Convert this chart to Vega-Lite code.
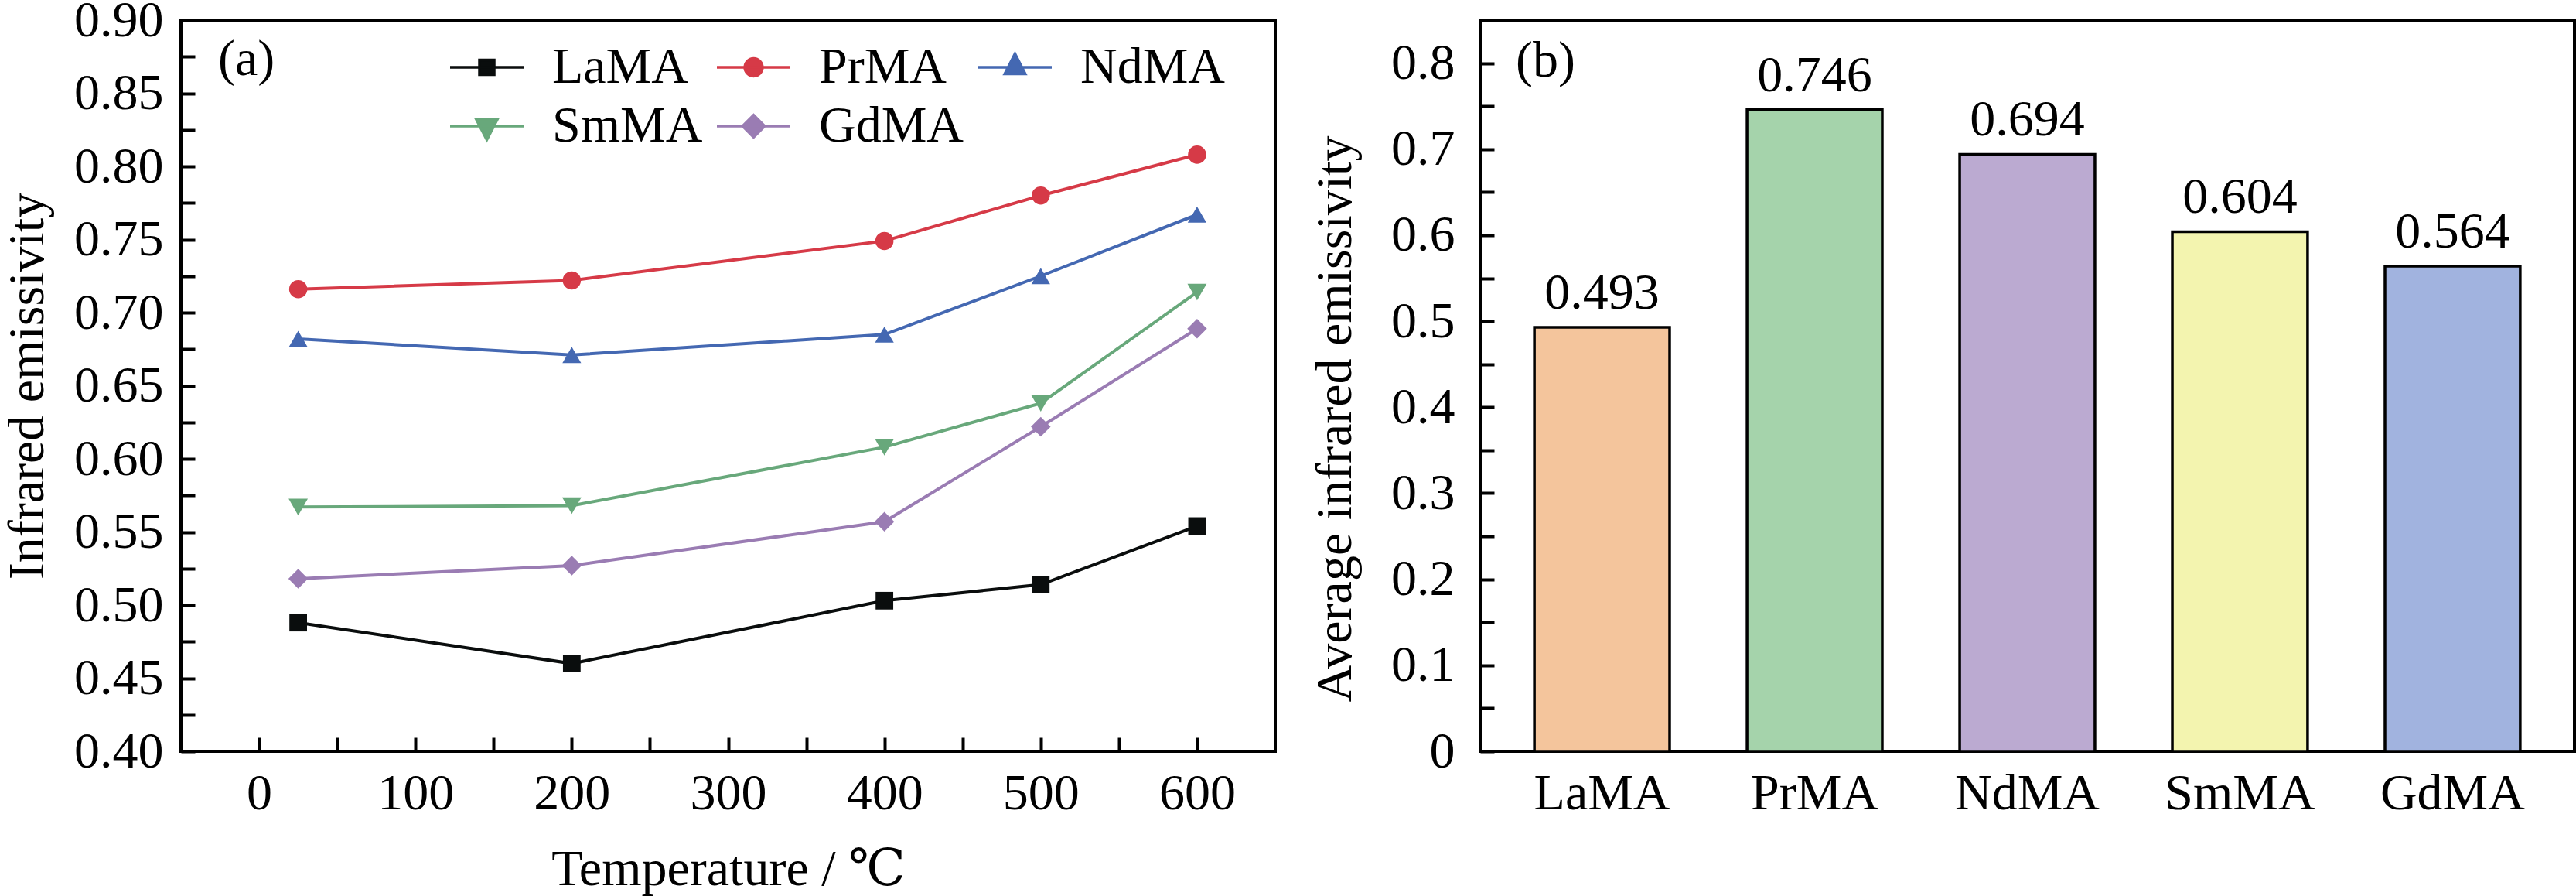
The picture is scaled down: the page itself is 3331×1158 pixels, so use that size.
{
  "$schema": "https://vega.github.io/schema/vega-lite/v6.json",
  "padding": {"left": 0, "top": -9, "right": 0, "bottom": 0},
  "background": "#ffffff",
  "config": {
    "font": "Liberation Serif",
    "view": {"stroke": "#000000", "strokeWidth": 4},
    "axis": {
      "domain": false, "grid": false,
      "labelFont": "Liberation Serif", "labelFontSize": 66, "labelColor": "#000000", "labelLimit": 400,
      "titleFont": "Liberation Serif, DejaVu Serif", "titleFontSize": 66, "titleFontWeight": "normal", "titleColor": "#000000",
      "tickColor": "#000000", "tickWidth": 4,
      "labelOverlap": false, "labelBound": false, "labelFlush": false
    }
  },
  "resolve": {"scale": {"color": "independent"}},
  "spacing": 40,
  "hconcat": [
    {
      "width": 1415,
      "height": 945,
      "title": {"text": "(a)", "anchor": "start", "frame": "group", "baseline": "alphabetic", "offset": -170, "dx": 48, "fontSize": 66, "fontWeight": "normal", "font": "Liberation Serif", "color": "#000000"},
      "data": {"values": [
        {"series": "LaMA", "temperature": 25, "emissivity": 0.488},
        {"series": "LaMA", "temperature": 200, "emissivity": 0.460},
        {"series": "LaMA", "temperature": 400, "emissivity": 0.503},
        {"series": "LaMA", "temperature": 500, "emissivity": 0.514},
        {"series": "LaMA", "temperature": 600, "emissivity": 0.554},
        {"series": "PrMA", "temperature": 25, "emissivity": 0.716},
        {"series": "PrMA", "temperature": 200, "emissivity": 0.722},
        {"series": "PrMA", "temperature": 400, "emissivity": 0.749},
        {"series": "PrMA", "temperature": 500, "emissivity": 0.780},
        {"series": "PrMA", "temperature": 600, "emissivity": 0.808},
        {"series": "NdMA", "temperature": 25, "emissivity": 0.682},
        {"series": "NdMA", "temperature": 200, "emissivity": 0.671},
        {"series": "NdMA", "temperature": 400, "emissivity": 0.685},
        {"series": "NdMA", "temperature": 500, "emissivity": 0.725},
        {"series": "NdMA", "temperature": 600, "emissivity": 0.767},
        {"series": "SmMA", "temperature": 25, "emissivity": 0.567},
        {"series": "SmMA", "temperature": 200, "emissivity": 0.568},
        {"series": "SmMA", "temperature": 400, "emissivity": 0.608},
        {"series": "SmMA", "temperature": 500, "emissivity": 0.638},
        {"series": "SmMA", "temperature": 600, "emissivity": 0.714},
        {"series": "GdMA", "temperature": 25, "emissivity": 0.518},
        {"series": "GdMA", "temperature": 200, "emissivity": 0.527},
        {"series": "GdMA", "temperature": 400, "emissivity": 0.557},
        {"series": "GdMA", "temperature": 500, "emissivity": 0.622},
        {"series": "GdMA", "temperature": 600, "emissivity": 0.689}
      ]},
      "encoding": {
        "x": {
          "field": "temperature", "type": "quantitative",
          "scale": {"domain": [-50, 650], "nice": false, "zero": false},
          "axis": {
            "title": "Temperature / ℃",
            "values": [0, 50, 100, 150, 200, 250, 300, 350, 400, 450, 500, 550, 600],
            "tickSize": -18, "labelPadding": 40, "titlePadding": 33,
            "labelExpr": "datum.value % 100 === 0 ? format(datum.value, 'd') : ''",
            "encode": {"ticks": {"update": {"y2": {"signal": "datum.value % 100 === 0 ? -18 : -10"}}}}
          }
        },
        "y": {
          "field": "emissivity", "type": "quantitative",
          "scale": {"domain": [0.4, 0.9], "nice": false, "zero": false},
          "axis": {
            "title": "Infrared emissivity",
            "values": [0.4, 0.425, 0.45, 0.475, 0.5, 0.525, 0.55, 0.575, 0.6, 0.625, 0.65, 0.675, 0.7, 0.725, 0.75, 0.775, 0.8, 0.825, 0.85, 0.875, 0.9],
            "tickSize": -18, "labelPadding": 41, "titlePadding": 26,
            "labelExpr": "abs(datum.value*20 - round(datum.value*20)) < 0.01 ? format(datum.value, '.2f') : ''",
            "encode": {"ticks": {"update": {"x2": {"signal": "abs(datum.value*20 - round(datum.value*20)) < 0.01 ? 18 : 10"}}}}
          }
        }
      },
      "layer": [
        {
          "mark": {"type": "line", "strokeWidth": 4},
          "encoding": {
            "color": {
              "field": "series", "type": "nominal",
              "scale": {"domain": ["LaMA", "PrMA", "NdMA", "SmMA", "GdMA"], "range": ["#0a0d0d", "#d63a47", "#4468b2", "#68a87b", "#9a7cb3"]},
              "legend": {
                "orient": "none", "legendX": 346, "legendY": 28, "columns": 3, "direction": "horizontal", "title": null,
                "symbolType": "stroke", "symbolSize": 9025, "symbolStrokeWidth": 3.5, "clipHeight": 66,
                "labelFont": "Liberation Serif", "labelFontSize": 66, "labelColor": "#000000", "labelOffset": 35, "labelLimit": 400,
                "columnPadding": 16, "rowPadding": 10, "padding": 0,
                "encode": {"symbols": {"update": {
                  "shape": {"signal": "datum.value === 'LaMA' ? 'M-1,0H1M-0.2,-0.2H0.2V0.2H-0.2Z' : datum.value === 'PrMA' ? 'M-1,0H1M-0.24,0A0.24,0.24,0,1,0,0.24,0A0.24,0.24,0,1,0,-0.24,0Z' : datum.value === 'NdMA' ? 'M-1,0H1M0,-0.37L0.28,0.18L-0.28,0.18Z' : datum.value === 'SmMA' ? 'M-1,0H1M-0.29,-0.19L0.29,-0.19L0,0.37Z' : 'M-1,0H1M-0.3,0L0,-0.3L0.3,0L0,0.3Z'"},
                  "fill": {"signal": "datum.value === 'LaMA' ? '#0a0d0d' : datum.value === 'PrMA' ? '#d63a47' : datum.value === 'NdMA' ? '#4468b2' : datum.value === 'SmMA' ? '#68a87b' : '#9a7cb3'"},
                  "stroke": {"signal": "datum.value === 'LaMA' ? '#0a0d0d' : datum.value === 'PrMA' ? '#d63a47' : datum.value === 'NdMA' ? '#4468b2' : datum.value === 'SmMA' ? '#68a87b' : '#9a7cb3'"},
                  "strokeWidth": {"value": 3.5},
                  "opacity": {"value": 1},
                  "fillOpacity": {"value": 1}
                }}}
              }
            }
          }
        },
        {
          "mark": {"type": "point", "filled": true, "opacity": 1, "strokeWidth": 0},
          "encoding": {
            "color": {"field": "series", "type": "nominal", "legend": null},
            "shape": {"field": "series", "type": "nominal", "scale": {"domain": ["LaMA", "PrMA", "NdMA", "SmMA", "GdMA"], "range": ["square", "circle", "triangle-up", "triangle-down", "diamond"]}, "legend": null},
            "size": {"field": "series", "type": "nominal", "scale": {"domain": ["LaMA", "PrMA", "NdMA", "SmMA", "GdMA"], "range": [520, 650, 1024, 1024, 1024]}, "legend": null}
          }
        }
      ]
    },
    {
      "width": 1415,
      "height": 945,
      "title": {"text": "(b)", "anchor": "start", "frame": "group", "baseline": "alphabetic", "offset": -139, "dx": 46, "fontSize": 66, "fontWeight": "normal", "font": "Liberation Serif", "color": "#000000"},
      "data": {"values": [
        {"material": "LaMA", "average": 0.493},
        {"material": "PrMA", "average": 0.746},
        {"material": "NdMA", "average": 0.694},
        {"material": "SmMA", "average": 0.604},
        {"material": "GdMA", "average": 0.564}
      ]},
      "encoding": {
        "x": {
          "field": "material", "type": "nominal", "sort": null,
          "scale": {"paddingInner": 0.364, "paddingOuter": 0.255},
          "axis": {"title": null, "labelAngle": 0, "ticks": false, "tickSize": 0, "labelPadding": 22}
        },
        "y": {
          "field": "average", "type": "quantitative",
          "scale": {"domain": [0, 0.85], "nice": false, "zero": true},
          "axis": {
            "title": "Average infrared emissivity",
            "values": [0, 0.05, 0.1, 0.15, 0.2, 0.25, 0.3, 0.35, 0.4, 0.45, 0.5, 0.55, 0.6, 0.65, 0.7, 0.75, 0.8],
            "tickSize": -18, "labelPadding": 51, "titlePadding": 38, "titleY": 515,
            "labelExpr": "abs(datum.value*10 - round(datum.value*10)) < 0.01 ? format(datum.value, '.1~f') : ''",
            "encode": {"ticks": {"update": {"x2": {"signal": "abs(datum.value*10 - round(datum.value*10)) < 0.01 ? 18 : 10"}}}}
          }
        }
      },
      "layer": [
        {
          "mark": {"type": "bar", "stroke": "#000000", "strokeWidth": 3.5},
          "encoding": {
            "color": {
              "field": "material", "type": "nominal",
              "scale": {"domain": ["LaMA", "PrMA", "NdMA", "SmMA", "GdMA"], "range": ["#f4c59c", "#a5d3ab", "#bbaad1", "#f3f4af", "#a1b3df"]},
              "legend": null
            }
          }
        },
        {
          "mark": {"type": "text", "baseline": "alphabetic", "dy": -24, "fontSize": 66, "font": "Liberation Serif", "color": "#000000"},
          "encoding": {"text": {"field": "average", "type": "quantitative", "format": ".3f"}}
        }
      ]
    }
  ]
}
